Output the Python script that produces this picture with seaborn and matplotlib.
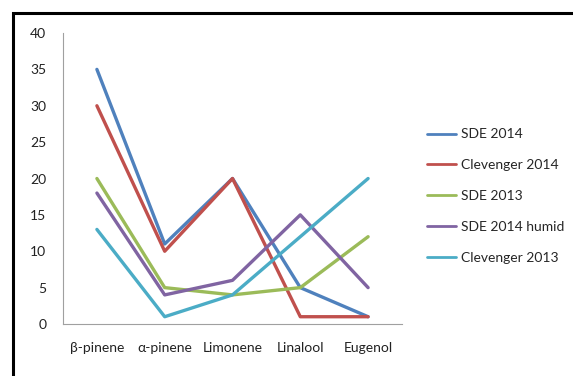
import matplotlib
matplotlib.use("Agg")
import matplotlib.pyplot as plt
import matplotlib.patches as mpatches
import seaborn as sns
import pandas as pd

compounds = ["β-pinene", "α-pinene", "Limonene", "Linalool", "Eugenol"]
series_names = ["SDE 2014", "Clevenger 2014", "SDE 2013", "SDE 2014 humid", "Clevenger 2013"]
sde_2014 = [35, 11, 20, 5, 1]
clevenger_2014 = [30, 10, 20, 1, 1]
sde_2013 = [20, 5, 4, 5, 12]
sde_2014_humid = [18, 4, 6, 15, 5]
clevenger_2013 = [13, 1, 4, 12, 20]
y_ticks = [0, 5, 10, 15, 20, 25, 30, 35, 40]

colors = ["#4F81BD", "#C0504D", "#9BBB59", "#8064A2", "#4BACC6"]

rows = []
for name, vals in zip(series_names,
                      [sde_2014, clevenger_2014, sde_2013, sde_2014_humid, clevenger_2013]):
    for i, (c, v) in enumerate(zip(compounds, vals)):
        rows.append({"pos": i, "compound": c, "series": name, "value": v})
df = pd.DataFrame(rows)

sns.set_style("white")
plt.rcParams["font.family"] = ["Lato", "DejaVu Sans"]

FS = 10
fig = plt.figure(figsize=(5.73, 3.76), dpi=100)
ax = fig.add_axes([63 / 573, 1 - 324 / 376, (402 - 63) / 573, (324 - 33) / 376])

sns.lineplot(data=df, x="pos", y="value", hue="series", hue_order=series_names,
             palette=colors, linewidth=2.4, ax=ax, legend=False, sort=False)

ax.set_xlim(-0.5, 4.5)
ax.set_ylim(0, 40)
ax.set_yticks(y_ticks)
ax.set_yticklabels([str(t) for t in y_ticks], fontsize=FS, color="#222222")
ax.set_xticks([-0.5, 0.5, 1.5, 2.5, 3.5, 4.5])
ax.set_xticklabels([])
ax.set_xticks(range(len(compounds)), minor=True)
ax.set_xticklabels(compounds, minor=True, fontsize=FS, color="#222222")
ax.tick_params(axis="x", which="minor", length=0, pad=13)
ax.tick_params(axis="x", which="major", length=4, color="#A0A0A0", width=0.8, direction="out")
ax.tick_params(axis="y", length=4, color="#A0A0A0", width=0.8, direction="out", pad=8)
ax.set_xlabel("")
ax.set_ylabel("")
for side in ["top", "right"]:
    ax.spines[side].set_visible(False)
for side in ["left", "bottom"]:
    ax.spines[side].set_color("#A0A0A0")
    ax.spines[side].set_linewidth(0.8)

handles = [plt.Line2D([], [], color=c, linewidth=2.0) for c in colors]
fig.legend(handles, series_names, loc="center left",
           bbox_to_anchor=(427 / 573, 1 - 196 / 376), frameon=False,
           fontsize=FS, handlelength=2.1, handletextpad=0.35,
           labelspacing=1.35, borderpad=0, borderaxespad=0)

# outer chart frame
frame = mpatches.Rectangle((13 / 573, -0.1), 1.2, 1 - 13 / 376 + 0.1,
                           transform=fig.transFigure, fill=False,
                           edgecolor="black", linewidth=2.2, clip_on=False)
fig.patches.append(frame)

fig.savefig("out.png", dpi=100)
